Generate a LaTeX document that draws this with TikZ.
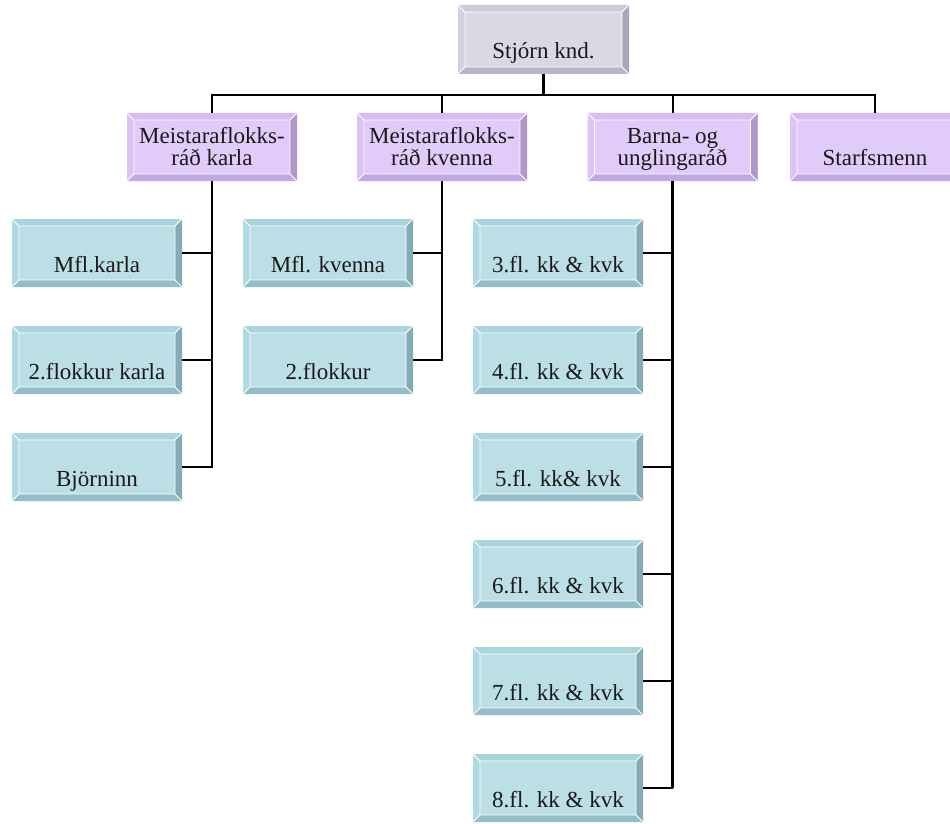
\documentclass[tikz,border=0pt]{standalone}
\usepackage{fontspec}
\setmainfont{Liberation Serif}
\definecolor{tFace}{HTML}{BCDFE5}
\definecolor{tTop}{HTML}{A9D6DE}
\definecolor{tLeft}{HTML}{B0DAE1}
\definecolor{tRight}{HTML}{86ABB4}
\definecolor{tBot}{HTML}{93BEC7}
\definecolor{pFace}{HTML}{E1CBF9}
\definecolor{pTop}{HTML}{D7BBF4}
\definecolor{pLeft}{HTML}{DCC3F6}
\definecolor{pRight}{HTML}{B097CC}
\definecolor{pBot}{HTML}{C3A7E4}
\definecolor{gFace}{HTML}{D9D9E5}
\definecolor{gTop}{HTML}{CBCBD9}
\definecolor{gLeft}{HTML}{D1D1DF}
\definecolor{gRight}{HTML}{A7A7BB}
\definecolor{gBot}{HTML}{B6B6C8}
\tikzset{
  bevbox/.style n args={5}{rectangle, inner sep=0pt, minimum width=170pt,
    minimum height=68pt, text height=53pt, text depth=15pt, align=center,
    font=\fontsize{23}{22}\selectfont, fill=#1, text=black!90,
    path picture={
      \path (path picture bounding box.north west) coordinate (pnw)
            (path picture bounding box.north east) coordinate (pne)
            (path picture bounding box.south west) coordinate (psw)
            (path picture bounding box.south east) coordinate (pse);
      \path ([shift={(7pt,-7pt)}]pnw) coordinate (inw)
            ([shift={(-7pt,-7pt)}]pne) coordinate (ine)
            ([shift={(7pt,7pt)}]psw) coordinate (isw)
            ([shift={(-7pt,7pt)}]pse) coordinate (ise);
      \fill[#2] (pnw) -- (pne) -- (ine) -- (inw) -- cycle;
      \fill[#3] (pnw) -- (inw) -- (isw) -- (psw) -- cycle;
      \fill[#4] (pne) -- (pse) -- (ise) -- (ine) -- cycle;
      \fill[#5] (psw) -- (isw) -- (ise) -- (pse) -- cycle;
      \draw[white, line width=0.9pt] (inw) rectangle (ise)
            (pnw) -- (inw) (pne) -- (ine) (psw) -- (isw) (pse) -- (ise);
    }},
  tealbox/.style={bevbox={tFace}{tTop}{tLeft}{tRight}{tBot}},
  purplebox/.style={bevbox={pFace}{pTop}{pLeft}{pRight}{pBot}, text height=52pt, text depth=16pt},
  graybox/.style={bevbox={gFace}{gTop}{gLeft}{gRight}{gBot}, minimum width=171pt, minimum height=69pt, text height=54pt},
  trunk/.style={line width=2.2pt, black},
  busline/.style={line width=2pt, black},
  stub/.style={line width=1.7pt, black},
}
\begin{document}
\begin{tikzpicture}[x=1pt,y=-1pt]
\useasboundingbox (0,0) rectangle (950,824);
% top
\node[graybox] (top) at (543.5,39.5) {Stjórn knd.};
% level 2
\node[purplebox] (mk) at (212,147) {Meistaraflokks-\\ráð karla};
\node[purplebox] (mw) at (442,147) {Meistaraflokks-\\ráð kvenna};
\node[purplebox] (bu) at (672.5,147) {Barna- og\\unglingaráð};
\node[purplebox] (st) at (875,147) {Starfsmenn};
% karla column
\node[tealbox] (k1) at (97,253) {Mfl.karla};
\node[tealbox] (k2) at (97,360) {2.flokkur karla};
\node[tealbox] (k3) at (97,467) {Björninn};
% kvenna column
\node[tealbox] (w1) at (328,253) {Mfl. kvenna};
\node[tealbox] (w2) at (328,360) {2.flokkur};
% barna column
\node[tealbox] (b3) at (558,253) {3.fl. kk \& kvk};
\node[tealbox] (b4) at (558,360) {4.fl. kk \& kvk};
\node[tealbox] (b5) at (558,467) {5.fl. kk\& kvk};
\node[tealbox] (b6) at (558,574) {6.fl. kk \& kvk};
\node[tealbox] (b7) at (558,681) {7.fl. kk \& kvk};
\node[tealbox] (b8) at (558,788) {8.fl. kk \& kvk};
% connectors
\coordinate (bus) at (543.5,95);
\draw[trunk] (top.south) -- (bus);
\draw[busline] (mk.north) |- (bus) -| (st.north);
\draw[busline] (bus) -| (mw.north);
\draw[busline] (bus) -| (bu.north);
\draw[trunk] (mk.south) -- (mk.south |- k3.east);
\draw[trunk] (mw.south) -- (mw.south |- w2.east);
\draw[trunk] (bu.south) -- (bu.south |- b8.east);
\foreach \c in {k1,k2,k3} \draw[stub] (mk.south) |- (\c.east);
\foreach \c in {w1,w2} \draw[stub] (mw.south) |- (\c.east);
\foreach \c in {b3,b4,b5,b6,b7,b8} \draw[stub] (bu.south) |- (\c.east);
\end{tikzpicture}
\end{document}
